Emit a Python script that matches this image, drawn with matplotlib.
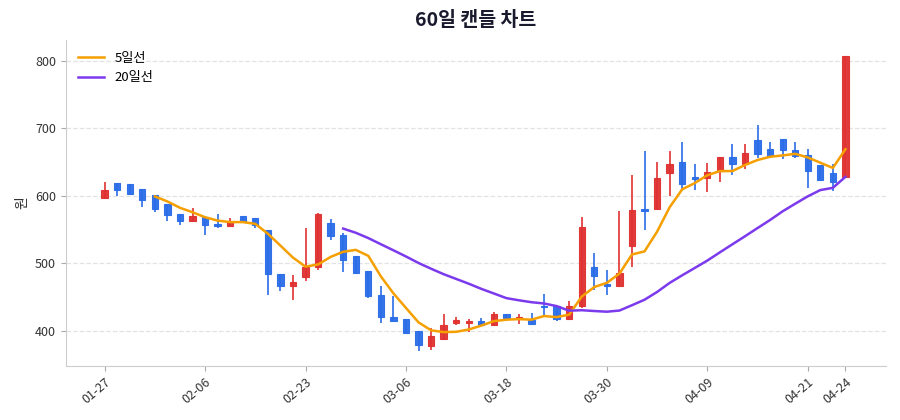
import matplotlib
matplotlib.use("Agg")
import matplotlib.pyplot as plt
import pandas as pd
import numpy as np

plt.rcParams['font.family'] = ['Noto Sans CJK KR', 'DejaVu Sans']

dates = ["01-27", "01-28", "01-29", "01-30", "02-02", "02-03", "02-04", "02-05", "02-06",
         "02-09", "02-10", "02-11", "02-12", "02-13", "02-19", "02-20", "02-23",
         "02-24", "02-25", "02-26", "02-27", "03-03", "03-04", "03-05", "03-06",
         "03-09", "03-10", "03-11", "03-12", "03-13", "03-16", "03-17", "03-18",
         "03-19", "03-20", "03-23", "03-24", "03-25", "03-26", "03-27", "03-30",
         "03-31", "04-01", "04-02", "04-03", "04-06", "04-07", "04-08", "04-09",
         "04-10", "04-13", "04-14", "04-15", "04-16", "04-17", "04-20", "04-21",
         "04-22", "04-23", "04-24"]

opens  = [596, 619, 617, 610, 601, 588, 573, 562, 569, 558,
          555, 570, 567, 550, 484, 466, 479, 495, 560, 542,
          511, 488, 453, 420, 418, 400, 378, 388, 411, 411,
          414, 409, 425, 417, 416, 437, 437, 417, 436, 494,
          469, 467, 526, 580, 580, 634, 650, 628, 626, 637,
          658, 647, 682, 669, 684, 668, 661, 645, 634, 628]
highs  = [620, 619, 617, 610, 601, 588, 573, 582, 569, 573,
          567, 570, 567, 550, 484, 483, 552, 574, 565, 545,
          511, 488, 467, 452, 418, 400, 404, 425, 421, 418,
          419, 428, 425, 425, 427, 455, 437, 444, 568, 515,
          490, 578, 631, 666, 650, 666, 679, 647, 649, 658,
          676, 677, 705, 679, 684, 680, 670, 645, 647, 807]
lows   = [595, 600, 603, 584, 576, 563, 556, 562, 542, 552,
          555, 562, 552, 453, 459, 445, 473, 490, 535, 487,
          484, 448, 411, 414, 397, 370, 372, 387, 408, 398,
          408, 409, 414, 410, 410, 422, 414, 417, 433, 460,
          453, 467, 494, 550, 580, 600, 607, 609, 605, 621,
          631, 640, 656, 656, 655, 656, 611, 623, 607, 628]
closes = [609, 609, 603, 594, 580, 572, 562, 570, 557, 555,
          561, 562, 557, 484, 467, 472, 495, 573, 540, 505,
          486, 451, 421, 414, 397, 379, 392, 408, 416, 414,
          408, 425, 419, 420, 410, 435, 417, 437, 554, 481,
          466, 485, 579, 577, 627, 647, 618, 625, 635, 658,
          647, 663, 662, 659, 668, 659, 636, 623, 620, 807]

tick_idx = [0, 8, 16, 24, 32, 40, 48, 56, 59]

UP = '#e03131'
DOWN = '#2b6de8'

df = pd.DataFrame({'open': opens, 'high': highs, 'low': lows, 'close': closes})
ma5 = df['close'].rolling(5).mean()
ma20 = df['close'].rolling(20).mean()
x = np.arange(len(df))

fig = plt.figure(figsize=(9, 4.2), dpi=100)
ax = fig.add_axes([0.073, 0.129, 0.911, 0.776])

for i in range(len(df)):
    o, h, l, c = opens[i], highs[i], lows[i], closes[i]
    col = UP if c >= o else DOWN
    ax.vlines(x[i], l, h, color=col, linewidth=1.2, zorder=2)
    bottom = min(o, c)
    height = max(abs(c - o), 1.5)
    ax.bar(x[i], height, bottom=bottom, width=0.5, color=col,
           edgecolor=col, linewidth=0.8, alpha=0.95, zorder=3)

ax.plot(x, ma5, color='#f59f00', linewidth=1.8, label='5일선', zorder=4)
ax.plot(x, ma20, color='#7c3aed', linewidth=1.8, label='20일선', zorder=4)

ax.set_xlim(-3.1, 62.2)
ax.set_ylim(348, 831)
ax.set_yticks([400, 500, 600, 700, 800])
ax.set_xticks(tick_idx)
ax.set_xticklabels([dates[i] for i in tick_idx], rotation=40, ha='right',
                   rotation_mode='anchor')
ax.tick_params(axis='both', colors='#aaaaaa', labelcolor='#333333', labelsize=9)
ax.grid(axis='y', linestyle='--', color='#e3e3e3', linewidth=0.9)
ax.set_axisbelow(True)
for s in ['top', 'right']:
    ax.spines[s].set_visible(False)
for s in ['left', 'bottom']:
    ax.spines[s].set_color('#cccccc')

ax.set_ylabel('원', fontsize=10, color='#333333')
ax.set_title('60일 캔들 차트', fontsize=14, fontweight='bold', color='#1a1a2e', pad=10)
ax.legend(loc='upper left', frameon=False, fontsize=9.5)

fig.savefig('out.png', dpi=100)
